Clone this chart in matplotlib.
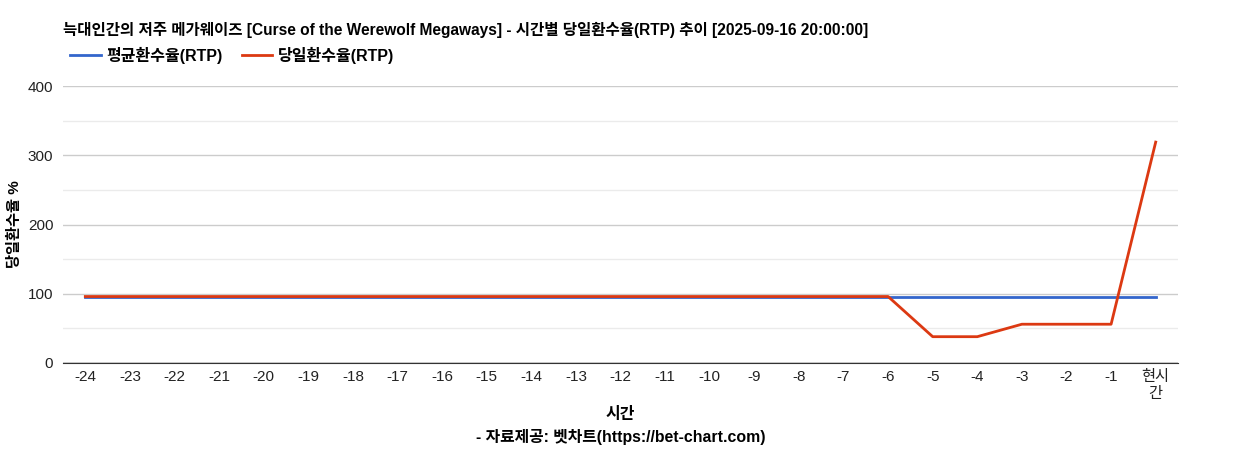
import numpy as np
import matplotlib
matplotlib.use('Agg')
import matplotlib.pyplot as plt

plt.rcParams['font.family'] = ['Liberation Sans', 'Noto Sans CJK KR', 'DejaVu Sans']

# 데이터
x_labels = [str(i) for i in range(-24, 0)] + ['현시\n간']
avg_rtp = [96] * 25
day_rtp = [96] * 19 + [38, 38, 56, 56, 56, 319]

title = '늑대인간의 저주 메가웨이즈 [Curse of the Werewolf Megaways] - 시간별 당일환수율(RTP) 추이 [2025-09-16 20:00:00]'

fig = plt.figure(figsize=(12.4, 4.5), dpi=100)
ax = fig.add_axes([63 / 1240, 1 - 363 / 450, (1178 - 63) / 1240, (363 - 86) / 450])

x = np.arange(len(x_labels))
ax.plot(x, avg_rtp, color='#3366cc', lw=2, label='평균환수율(RTP)')
ax.plot(x, day_rtp, color='#dc3912', lw=2, label='당일환수율(RTP)')

ax.set_xlim(-0.5, len(x_labels) - 0.5)
ax.set_ylim(0, 400)
ax.set_yticks([0, 100, 200, 300, 400])
ax.set_yticks([50, 150, 250, 350], minor=True)
ax.grid(True, which='major', axis='y', color='#cccccc', lw=1)
ax.grid(True, which='minor', axis='y', color='#ebebeb', lw=1)
ax.set_axisbelow(True)
ax.set_xticks(x)
ax.set_xticklabels(x_labels, fontsize=11, color='#222222', linespacing=1.25)
ax.tick_params(axis='y', which='both', labelsize=11, labelcolor='#222222', length=0, pad=7)
ax.tick_params(axis='x', length=0, pad=5)
for s in ['top', 'right', 'left']:
    ax.spines[s].set_visible(False)
ax.spines['bottom'].set_color('#333333')
ax.axhline(0, color='#333333', lw=1)

# 축 제목
fig.text(15 / 1240, 1 - 224 / 450, '당일환수율 %', rotation=90, ha='center', va='center',
         fontsize=11, fontweight='bold')
fig.text(620 / 1240, 1 - 415 / 450, '시간', ha='center', va='center', fontsize=11.5, fontweight='bold')
fig.text(621 / 1240, 1 - 437 / 450, '- 자료제공: 벳차트(https://bet-chart.com)', ha='center', va='center',
         fontsize=11.4, fontweight='bold')

fig.text(63 / 1240, 1 - 30 / 450, title, ha='left', va='center', fontsize=11.2, fontweight='bold')
fig.legend(loc='center left', bbox_to_anchor=(56 / 1240, 1 - 55 / 450), ncol=2, frameon=False,
           handlelength=1.9, handletextpad=0.35, columnspacing=1.2,
           prop={'weight': 'bold', 'size': 11.5})

fig.savefig('out.png', dpi=100)
